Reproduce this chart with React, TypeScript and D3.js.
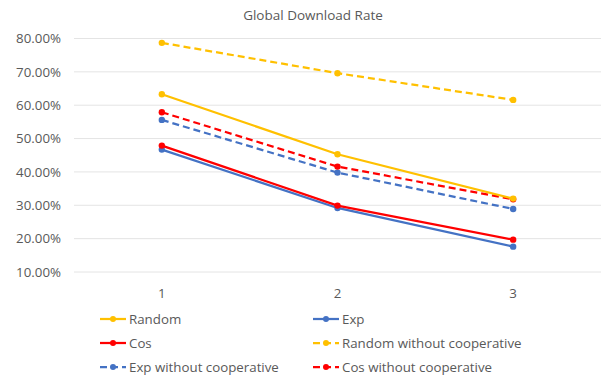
import React from "react";
import * as d3 from "d3";

const categories = ["1", "2", "3"];
const yTicks = [0.1, 0.2, 0.3, 0.4, 0.5, 0.6, 0.7, 0.8];

const seriesNames = [
  "Random",
  "Exp",
  "Cos",
  "Random without cooperative",
  "Exp without cooperative",
  "Cos without cooperative",
];
const randomVals = [0.633, 0.453, 0.32];
const expVals = [0.467, 0.292, 0.176];
const cosVals = [0.479, 0.299, 0.197];
const randomNoCoopVals = [0.787, 0.696, 0.616];
const expNoCoopVals = [0.556, 0.398, 0.289];
const cosNoCoopVals = [0.579, 0.416, 0.318];

const W = 605;
const H = 378;
const FONT = "'Open Sans', sans-serif";
const TEXT = "#595959";

type Series = { name: string; values: number[]; color: string; dashed: boolean };

const series: Series[] = [
  { name: seriesNames[0], values: randomVals, color: "#FFC000", dashed: false },
  { name: seriesNames[1], values: expVals, color: "#4472C4", dashed: false },
  { name: seriesNames[2], values: cosVals, color: "#FF0000", dashed: false },
  { name: seriesNames[3], values: randomNoCoopVals, color: "#FFC000", dashed: true },
  { name: seriesNames[4], values: expNoCoopVals, color: "#4472C4", dashed: true },
  { name: seriesNames[5], values: cosNoCoopVals, color: "#FF0000", dashed: true },
];

export default function App() {
  const x = d3.scaleBand<string>().domain(categories).range([74, 601]);
  const cx = (c: string) => (x(c) ?? 0) + x.bandwidth() / 2;
  const y = d3.scaleLinear().domain([0.1, 0.8]).range([272, 38.5]);
  const fmt = d3.format(".2%");

  const line = d3
    .line<number>()
    .x((_, i) => cx(categories[i]))
    .y((v) => y(v));

  // draw order: dashed series underneath the solid ones
  const drawOrder = [3, 4, 5, 0, 1, 2];

  const legendCols = [100, 313];
  const legendRows = [319, 343, 367];

  return (
    <svg
      width={W}
      height={H}
      style={{ position: "absolute", left: 0, top: 0, background: "#fff" }}
      fontFamily={FONT}
    >
      <text x={313} y={20} textAnchor="middle" fontSize={13.5} fill={TEXT}>
        Global Download Rate
      </text>

      {yTicks.map((t) => (
        <g key={t}>
          <line x1={74} x2={601} y1={y(t)} y2={y(t)} stroke="#E4E4E4" strokeWidth={1} />
          <text x={61} y={y(t)} dy="0.35em" textAnchor="end" fontSize={13.3} fill={TEXT}>
            {fmt(t)}
          </text>
        </g>
      ))}

      {categories.map((c) => (
        <text key={c} x={cx(c)} y={293} dy="0.35em" textAnchor="middle" fontSize={13.3} fill={TEXT}>
          {c}
        </text>
      ))}

      {drawOrder.map((si) => {
        const s = series[si];
        return (
          <g key={s.name}>
            <path
              d={line(s.values) ?? ""}
              fill="none"
              stroke={s.color}
              strokeWidth={2.25}
              strokeDasharray={s.dashed ? "7 4" : undefined}
            />
            {s.values.map((v, i) => (
              <circle key={i} cx={cx(categories[i])} cy={y(v)} r={3.2} fill={s.color} />
            ))}
          </g>
        );
      })}

      {series.map((s, i) => {
        const lx = legendCols[i % 2];
        const ly = legendRows[Math.floor(i / 2)];
        return (
          <g key={s.name}>
            <line
              x1={lx}
              x2={lx + 26}
              y1={ly}
              y2={ly}
              stroke={s.color}
              strokeWidth={2.25}
              strokeDasharray={s.dashed ? "7 4" : undefined}
            />
            <circle cx={lx + 13} cy={ly} r={3} fill={s.color} />
            <text x={lx + 29} y={ly} dy="0.35em" fontSize={13.3} fill={TEXT}>
              {s.name}
            </text>
          </g>
        );
      })}
    </svg>
  );
}
